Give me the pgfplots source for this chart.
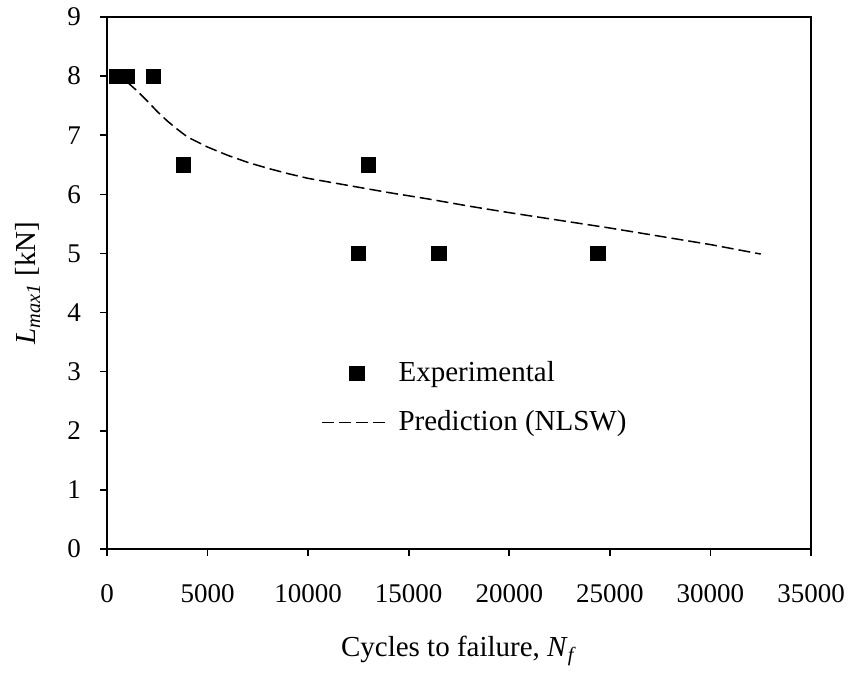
\documentclass[border=0pt]{standalone}
\usepackage{fontspec}
\setmainfont{Liberation Serif}
\usepackage{pgfplots}
\usetikzlibrary{calc}
\pgfplotsset{compat=1.18}
\begin{document}
\fontsize{13}{15.6}\selectfont
\begin{tikzpicture}
\begin{axis}[
  name=ax,
  scale only axis,
  width=352pt, height=266pt,
  xmin=0, xmax=35000, ymin=0, ymax=9,
  xtick={0,5000,...,35000}, ytick={0,1,...,9},
  scaled x ticks=false,
  /pgf/number format/.cd, assume math mode=true, set thousands separator={}, /pgfplots/.cd,
  tick pos=left,
  tick align=outside,
  major tick length=3.5pt,
  axis line style={line width=0.8pt},
  every tick/.style={black, line width=0.8pt},
  xticklabel style={yshift=-9.5pt, font=\fontsize{13.5}{16}\selectfont},
  yticklabel style={xshift=-5pt, font=\fontsize{13.5}{16}\selectfont},
  xlabel={Cycles to failure, \textit{N}\textsubscript{\textit{f}}},
  ylabel={\textit{L}\textsubscript{\textit{max1}} [kN]},
  xlabel style={at={(rel axis cs:0.5,0)}, anchor=center, yshift=-51pt, font=\fontsize{14.5}{17}\selectfont},
  ylabel style={at={(rel axis cs:0,0.5)}, anchor=center, yshift=39.5pt, font=\fontsize{14.5}{17}\selectfont},
  legend style={at={(rel axis cs:0.295,0.284)}, anchor=west, draw=none, fill=none,
    font=\fontsize{14.5}{17}\selectfont, row sep=8.5pt,
    /tikz/every odd column/.append style={column sep=4.5pt}},
  legend cell align=left,
  legend image code/.code={\draw[mark repeat=2, mark phase=2, #1] plot coordinates {(0pt,0pt) (17.5pt,0pt) (31.5pt,0pt)};},
]
\addplot[only marks, mark=square*, mark size=3.6pt, black] coordinates {
(500,8) (1000,8) (2300,8) (3800,6.5) (12500,5) (13000,6.5) (16500,5) (24400,5)
};
\addlegendentry{Experimental}
\addplot[black, line width=0.75pt, dash pattern=on 6pt off 2.5pt, mark=none] coordinates {
(1000,7.90) (1500,7.75) (2000,7.58) (2500,7.40) (3000,7.24) (3500,7.10) (4000,6.97)
(5000,6.80) (6000,6.66) (7000,6.54) (8000,6.44) (9000,6.35) (10000,6.27)
(12000,6.15) (14000,6.03) (16000,5.92) (18000,5.80) (20000,5.69) (22500,5.56)
(25000,5.43) (27500,5.29) (30000,5.15) (32500,4.99)
};
\addlegendentry{Prediction (NLSW)}
\end{axis}
\pgfresetboundingbox
\path[use as bounding box] ($(ax.south west)+(-53.5pt,-64pt)$) rectangle ($(ax.north east)+(20.5pt,8.5pt)$);
\end{tikzpicture}
\end{document}
